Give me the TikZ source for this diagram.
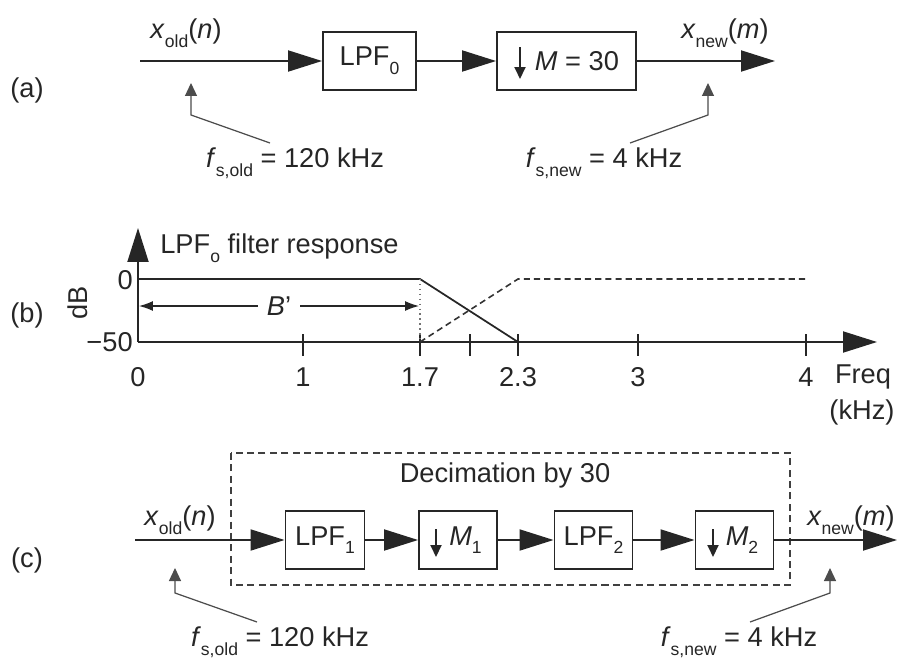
\documentclass[tikz,border=0pt]{standalone}
\usepackage{fontspec}
\setmainfont{Liberation Sans}
\usetikzlibrary{arrows.meta}
\newcommand{\lowsub}[1]{\raisebox{-0.6ex}{\fontsize{10}{10}\selectfont #1}}

\begin{document}
\begin{tikzpicture}[x=0.02cm, y=-0.02cm,
  every node/.style={font=\fontsize{15.5}{18}\selectfont, inner sep=0pt, text=black!85},
  box/.style={draw=black!85, line width=1.1pt, minimum height=1.16cm, inner sep=2pt},
  wire/.style={draw=black!85, line width=1.1pt},
  sig/.style={wire, -{Triangle[length=0.68cm, width=0.42cm]}},
  dnarrow/.style={draw=black!85, line width=1.1pt, -{Triangle[length=0.24cm, width=0.22cm]}},
  note/.style={draw=black!70, line width=0.7pt, -{Triangle[length=0.26cm, width=0.24cm]}},
  span/.style={draw=black!85, line width=0.7pt, {Latex[length=0.28cm, width=0.2cm]}-{Latex[length=0.28cm, width=0.2cm]}},
  frame/.style={draw=black!75, line width=0.9pt, dash pattern=on 4pt off 2.5pt}
]
\useasboundingbox (0,0) rectangle (899,659);

% (a)
\node (La) at (27,90) {(a)};
\node[box, minimum width=1.86cm] (LPF0) at (369.5,61) {LPF\lowsub{0}};
\node[box, minimum width=2.78cm] (DecA) at (566.5,61) {\hspace{0.42cm}\textit{M} = 30};
\coordinate (InA) at (140,61);
\coordinate (OutA) at (775,61);
\coordinate (DnTopA) at (520,47);
\coordinate (DnEndA) at (520,79);
\node (XoldA) at (186,33) {\textit{x}\lowsub{old}(\textit{n})};
\node (XnewA) at (725,33) {\textit{x}\lowsub{new}(\textit{m})};
\node (FsOldA) at (295,163) {\textit{f}\lowsub{s,old} = 120 kHz};
\node (FsNewA) at (604,163) {\textit{f}\lowsub{s,new} = 4 kHz};
\coordinate (FromOldA) at (270,143);
\coordinate (BendOldA) at (191,115);
\coordinate (TipOldA) at (191,83);
\coordinate (FromNewA) at (630,143);
\coordinate (BendNewA) at (708,115);
\coordinate (TipNewA) at (708,83);

\draw[sig] (InA) -- (LPF0);
\draw[sig] (LPF0) -- (DecA);
\draw[sig] (DecA) -- (OutA);
\draw[dnarrow] (DnTopA) -- (DnEndA);
\draw[note] (FromOldA) -- (BendOldA) -- (TipOldA);
\draw[note] (FromNewA) -- (BendNewA) -- (TipNewA);

% (b)
\node (Lb) at (27,315) {(b)};
\node[rotate=90] (dB) at (78,303) {dB};
\coordinate (Orig) at (138,342);
\coordinate (YTop) at (138,228);
\coordinate (XEnd) at (877,342);
\coordinate (Pass0) at (138,279);
\coordinate (EdgeP) at (420,279);
\coordinate (EdgePBot) at (420,342);
\coordinate (EdgeS) at (518,342);
\coordinate (EdgeSTop) at (518,279);
\coordinate (ImgEnd) at (807,279);
\coordinate (BLeft) at (139,306);
\coordinate (BRight) at (419,306);
\node[anchor=west] (RespTitle) at (160,248) {LPF\lowsub{o} filter response};
\node[anchor=east] (Y0) at (133,280) {0};
\node[anchor=east] (Y50) at (133,342) {−50};
\foreach \x/\t in {138/0,303/1,420/1.7,518/2.3,638/3,806/4}
  \node (TL\x) at (\x,377) {\t};
\node (Freq) at (863,377) {Freq};
\node (kHz) at (862,412) {(kHz)};

\draw[sig] (Orig) -- (YTop);
\draw[sig] (Orig) -- (XEnd);
\foreach \x in {303,420,470,518,638,806}
  \draw[wire, line width=0.9pt] (\x,334) -- (\x,356);
\draw[wire, line width=1pt] (Pass0) -- (EdgeP) -- (EdgeS);
\draw[draw=black!55, line width=0.8pt, dotted] (EdgeP) -- (EdgePBot);
\draw[draw=black!80, line width=0.9pt, dash pattern=on 3.5pt off 2.3pt] (EdgePBot) -- (EdgeSTop) -- (ImgEnd);
\draw[span] (BLeft) -- node[fill=white, inner xsep=5pt, inner ysep=2pt] (Bp) {\textit{B}'} (BRight);

% (c)
\node (Lc) at (27,560) {(c)};
\draw[frame] (231,453) rectangle (790,585);
\node (DecTxt) at (505,475) {Decimation by 30};
\node[box, minimum width=1.58cm] (LPF1) at (325,540) {LPF\lowsub{1}};
\node[box, minimum width=1.56cm] (Dn1) at (458,540) {\hspace{0.3cm}\textit{M}\lowsub{1}};
\node[box, minimum width=1.56cm] (LPF2) at (593.5,540) {LPF\lowsub{2}};
\node[box, minimum width=1.56cm] (Dn2) at (734.5,540) {\hspace{0.3cm}\textit{M}\lowsub{2}};
\coordinate (InC) at (135,540);
\coordinate (OutC) at (897,540);
\coordinate (DnTop1) at (436,529);
\coordinate (DnEnd1) at (436,557);
\coordinate (DnTop2) at (713,529);
\coordinate (DnEnd2) at (713,557);
\node (XoldC) at (180,520) {\textit{x}\lowsub{old}(\textit{n})};
\node (XnewC) at (851,520) {\textit{x}\lowsub{new}(\textit{m})};
\node (FsOldC) at (280,642) {\textit{f}\lowsub{s,old} = 120 kHz};
\node (FsNewC) at (739,642) {\textit{f}\lowsub{s,new} = 4 kHz};
\coordinate (FromOldC) at (257,622);
\coordinate (BendOldC) at (175,593);
\coordinate (TipOldC) at (175,568);
\coordinate (FromNewC) at (750,622);
\coordinate (BendNewC) at (830,593);
\coordinate (TipNewC) at (830,568);

\draw[sig] (InC) -- (LPF1);
\draw[sig] (LPF1) -- (Dn1);
\draw[sig] (Dn1) -- (LPF2);
\draw[sig] (LPF2) -- (Dn2);
\draw[sig] (Dn2) -- (OutC);
\draw[dnarrow] (DnTop1) -- (DnEnd1);
\draw[dnarrow] (DnTop2) -- (DnEnd2);
\draw[note] (FromOldC) -- (BendOldC) -- (TipOldC);
\draw[note] (FromNewC) -- (BendNewC) -- (TipNewC);
\end{tikzpicture}
\end{document}
